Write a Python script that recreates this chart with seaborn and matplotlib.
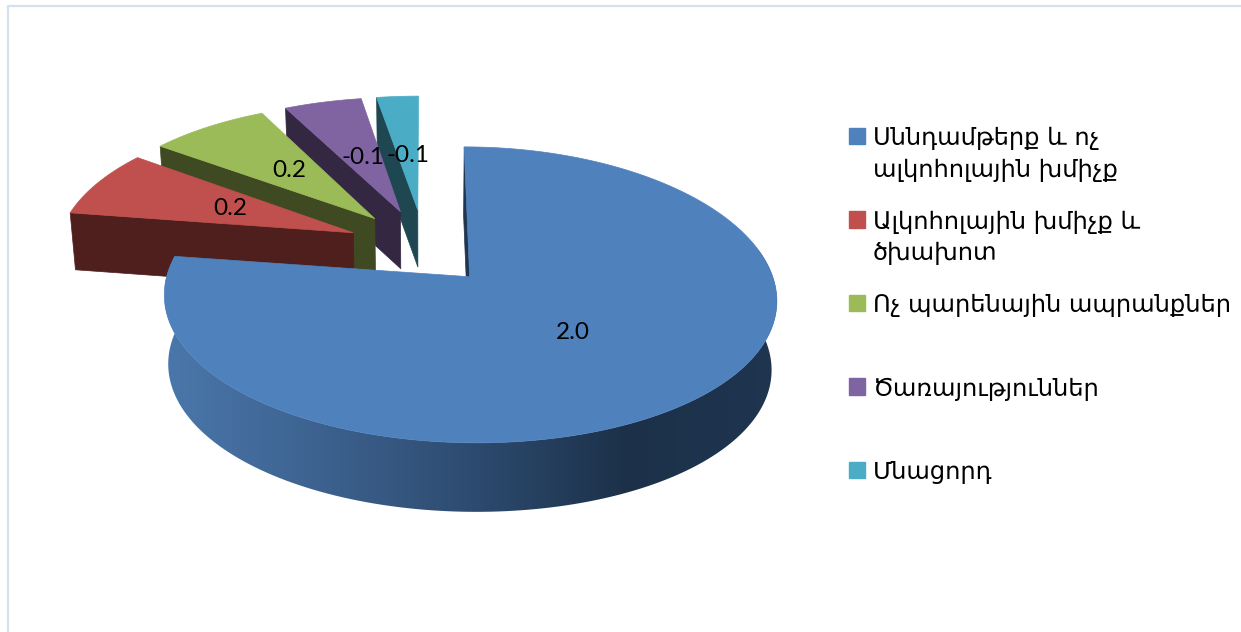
import numpy as np
import seaborn as sns
import matplotlib
matplotlib.use("Agg")
import matplotlib.pyplot as plt
from matplotlib.colors import LinearSegmentedColormap
from matplotlib.legend_handler import HandlerPatch
from matplotlib.patches import Patch, Polygon, Rectangle

# data, the labels round these to one decimal
categories = [
    "Սննդամթերք և ոչ\nալկոհոլային խմիչք",
    "Ալկոհոլային խմիչք և\nծխախոտ",
    "Ոչ պարենային ապրանքներ\n ",
    "Ծառայություններ\n ",
    "Մնացորդ\n ",
]
values = [2.04, 0.2, 0.2, -0.13, -0.07]
tops = sns.color_palette(["#4f81bd", "#c0504d", "#9bbb59", "#8064a2", "#4bacc6"])
faces = ["#1f3550", "#4f1f1e", "#3f4a22", "#332741", "#1f4752"]
explode = [0.22, 0.26, 0.26, 0.26, 0.26]
label_r = [0.48, 0.47, 0.49, 0.45, 0.44]

# view of the tilted pie: cx, cy, fx, fy, px, py, depth
front_view = (426, 253, 296, 140, 0.14, 0.12, 69)
back_view = (424, 247, 297, 150, 0.14, 0.20, 57)

sns.set_theme(style="white")
plt.rcParams["font.family"] = ["DejaVu Sans"]

fig = plt.figure(figsize=(12.41, 6.32), dpi=100)
ax = fig.add_axes([0, 0, 1, 1])

# the pie gives the angles and the exploded centres, drawn again in perspective below
wedges, _ = ax.pie(np.abs(values), explode=explode, startangle=90,
                   counterclock=False, radius=1)
slices = [(w.center, w.r, w.theta1, w.theta2) for w in wedges]
for w in wedges:
    w.remove()

ax.set_aspect("auto")
ax.set_xlim(0, 1241)
ax.set_ylim(632, 0)
ax.axis("off")


def project(x, y, view):
    cx, cy, fx, fy, px, py, _ = view
    return cx + fx * x / (1 + px * y), cy - fy * y / (1 + py * y)


def extrude(pts, view):
    cx, depth = view[0], view[6]
    return np.column_stack([cx + (pts[:, 0] - cx) * 0.985, pts[:, 1] + depth])


def rim(center, r, t1, t2, view):
    t = np.radians(np.linspace(t1, t2, 200))
    return np.column_stack(project(center[0] + r * np.cos(t), center[1] + r * np.sin(t), view))


# back slices first, the big one last
order = [4, 3, 2, 1, 0]
for i in order:
    center, r, t1, t2 = slices[i]
    view = front_view if i == 0 else back_view
    arc = rim(center, r, t1, t2, view)
    apex = np.array([project(center[0], center[1], view)])
    # cut face along the edge that looks at the viewer
    cut = np.vstack([arc[[-1]], apex])
    ax.add_patch(Polygon(np.vstack([cut, extrude(cut, view)[::-1]]), closed=True,
                         fc=faces[i], ec=faces[i], lw=0.5))
    if i == 0:
        # round wall with a left to right shading
        wall_poly = Polygon(np.vstack([arc, extrude(arc, view)[::-1]]), closed=True,
                            fc="none", ec="none", transform=ax.transData)
        ax.add_patch(wall_poly)
        shade = LinearSegmentedColormap.from_list(
            "wall", ["#4a77ab", "#3d628f", "#2d4b70", "#1c3149", "#1f3550"])
        im = ax.imshow(np.linspace(0, 1, 256)[None, :], cmap=shade, aspect="auto",
                       extent=(165, 780, 520, 250), zorder=1)
        im.set_clip_path(wall_poly)
        ax.set_xlim(0, 1241)
        ax.set_ylim(632, 0)
    ax.add_patch(Polygon(np.vstack([apex, arc]), closed=True, fc=tops[i], ec=tops[i],
                         lw=0.5, zorder=2 if i == 0 else 1))

# value labels
for i, val in enumerate(values):
    center, r, t1, t2 = slices[i]
    mid = np.radians((t1 + t2) / 2)
    view = front_view if i == 0 else back_view
    lr = label_r[i] * r
    lx, ly = project(center[0] + lr * np.cos(mid), center[1] + lr * np.sin(mid), view)
    ax.text(lx, ly, f"{val:.1f}", ha="center", va="center", fontsize=17.5,
            family="Lato", color="black", zorder=5)


def square(legend, orig_handle, xdescent, ydescent, width, height, fontsize):
    # sits on the first line of a two line label
    return Rectangle((-xdescent, -ydescent + 13.6), width, height)


leg = ax.legend(handles=[Patch(color=c) for c in tops], labels=categories, frameon=False,
                loc="upper left", bbox_to_anchor=(849 / 1241, 1 - 126 / 632), borderaxespad=0,
                borderpad=0, fontsize=17.35, labelspacing=1.16, handlelength=0.665,
                handleheight=0.665, handletextpad=0.33, labelcolor="black",
                handler_map={Patch: HandlerPatch(patch_func=square)})
for t in leg.get_texts():
    t.set_linespacing(1.40)

# thin frame of the pasted picture
ax.plot([8, 8, 1241], [632, 5.5, 5.5], color="#d5e1ef", lw=1.6, solid_capstyle="butt")

fig.savefig("out.png", dpi=100)
